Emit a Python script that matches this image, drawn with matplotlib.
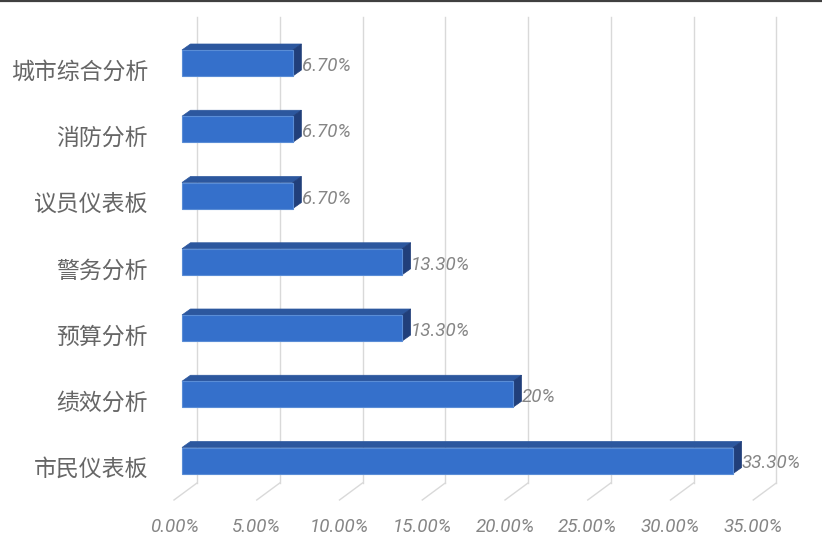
import matplotlib
matplotlib.use('Agg')
import matplotlib.pyplot as plt
from matplotlib.patches import Polygon
from matplotlib.lines import Line2D

# ---- data ----
categories = ['城市综合分析', '消防分析', '议员仪表板', '警务分析', '预算分析', '绩效分析', '市民仪表板']
values = [6.7, 6.7, 6.7, 13.3, 13.3, 20, 33.3]
value_labels = ['6.70%', '6.70%', '6.70%', '13.30%', '13.30%', '20%', '33.30%']
xticks = [0, 5, 10, 15, 20, 25, 30, 35]
xtick_labels = ['0.00%', '5.00%', '10.00%', '15.00%', '20.00%', '25.00%', '30.00%', '35.00%']

# ---- layout (pixel based) ----
W, H = 822, 560
X0, SX = 182.0, 16.55     # pixel of 0% on bar front plane, pixels per %
Y0, SY = 63.0, 66.25      # pixel centre of first bar, pixels per category

fig = plt.figure(figsize=(W / 100, H / 100), dpi=100)
ax = fig.add_axes([0, 0, 1, 1])
ax.set_xlim(-X0 / SX, (W - X0) / SX)
ax.set_ylim((H - Y0) / SY, -Y0 / SY)
ax.axis('off')

def dx(p):
    return p / SX

def dy(p):
    return p / SY

def ypx(p):
    return (p - Y0) / SY

num_font = dict(family=['Roboto', 'DejaVu Sans'], style='italic', weight='normal')
grid_c = '#d9d9d9'
txt_c = '#858585'

# back wall gridlines and floor lines
wall_dx, front_dx = 15, -8
for t, lab in zip(xticks, xtick_labels):
    ax.plot([t + dx(wall_dx)] * 2, [ypx(17), ypx(483)], color=grid_c, lw=1.0, zorder=1)
    ax.plot([t + dx(wall_dx), t + dx(front_dx)], [ypx(483), ypx(500)], color=grid_c, lw=1.0, zorder=1)
    ax.text(t + dx(front_dx), ypx(527), lab, ha='center', va='center', fontsize=13.5,
            color=txt_c, **num_font)

# bars
front_c, top_c, side_c = '#3570CB', '#2C579E', '#213F7A'
hh = dy(13)
ddx, ddy = dx(8.5), dy(-6)
for i, (v, lab, cat) in enumerate(zip(values, value_labels, categories)):
    top = Polygon([(0, i - hh), (v, i - hh), (v + ddx, i - hh + ddy), (ddx, i - hh + ddy)],
                  closed=True, facecolor=top_c, edgecolor=top_c, lw=0.5, zorder=3)
    side = Polygon([(v, i - hh), (v + ddx, i - hh + ddy), (v + ddx, i + hh + ddy), (v, i + hh)],
                   closed=True, facecolor=side_c, edgecolor=side_c, lw=0.5, zorder=3)
    front = Polygon([(0, i - hh), (v, i - hh), (v, i + hh), (0, i + hh)],
                    closed=True, facecolor=front_c, edgecolor='#5A8DD6', lw=0.8, zorder=4)
    for p in (top, side, front):
        ax.add_patch(p)
    ax.text(v + ddx + dx(0.3), i + dy(3), lab, ha='left', va='center', fontsize=13.5,
            color=txt_c, zorder=5, **num_font)
    ax.text(dx(148 - X0), i + dy(9), cat, ha='right', va='center', fontsize=16.5,
            color='#666666', family=['Noto Sans CJK SC', 'DejaVu Sans'], weight='light')

# top border line
fig.add_artist(Line2D([0, 1], [1 - 0.8 / H, 1 - 0.8 / H], transform=fig.transFigure,
                      color='#404040', lw=1.6))

fig.savefig('out.png', dpi=100, facecolor='white')
